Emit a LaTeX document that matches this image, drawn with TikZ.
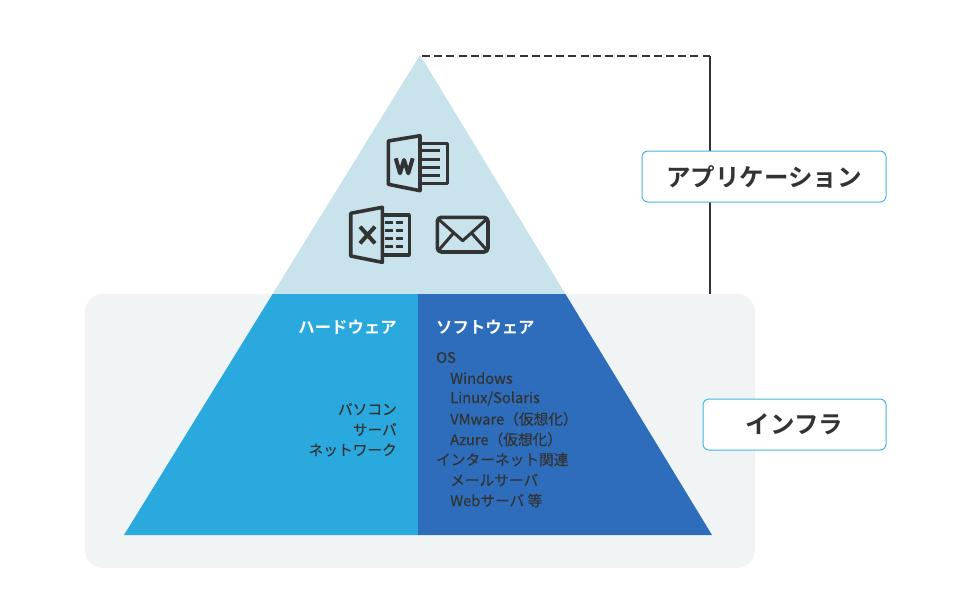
\documentclass[tikz,border=0pt]{standalone}
\usepackage{fontspec}
\setmainfont{Noto Sans CJK JP}[BoldFont={Noto Sans CJK JP Bold}]
\newfontfamily\bodyfont[FakeBold=0.4]{Noto Sans CJK JP}
\definecolor{inkgray}{HTML}{333333}
\definecolor{infrabg}{HTML}{F0F4F5}
\definecolor{apptop}{HTML}{C8E3EB}
\definecolor{hardblue}{HTML}{2AA9DE}
\definecolor{softblue}{HTML}{2D6DBB}
\definecolor{boxline}{HTML}{45B5E0}

\begin{document}
\begin{tikzpicture}[x=1pt,y=-1pt,line join=round]
   \useasboundingbox (0,0) rectangle (960,592);
   \tikzstyle{label}=[draw=boxline, line width=1pt, rounded corners=6pt, fill=white, text=inkgray, font=\fontsize{24.5}{24.5}\selectfont\bfseries, inner sep=0pt]
   \tikzstyle{head}=[text=white, font=\fontsize{16.4}{16.4}\selectfont\bfseries, inner sep=0pt]
   \tikzstyle{item}=[text=inkgray, font=\fontsize{14.7}{14.7}\bodyfont, inner sep=0pt]
   \tikzstyle{icon}=[draw=inkgray, line width=3.6pt]
   \tikzstyle{link}=[draw=inkgray, line width=2.2pt]

   % pyramid
   \fill[infrabg, rounded corners=18pt] (85,294) rectangle (755,568);
   \fill[apptop] (420,55) -- (565.4,294) -- (272.6,294) -- cycle;
   \fill[hardblue] (272.6,294) -- (418,294) -- (418,535) -- (124,535) -- cycle;
   \fill[softblue] (418,294) -- (565.4,294) -- (712,535) -- (418,535) -- cycle;

   % connectors
   \coordinate (apex) at (422,56);
   \coordinate (corner) at (710,56);
   \coordinate (base) at (710,294);
   \draw[link, dash pattern=on 8pt off 4.2pt] (apex) -- (corner);
   \draw[link] (corner) -- (base);

   \node[label, minimum width=244pt, minimum height=51pt] (app) at (764,176.5) {\raisebox{-1pt}{アプリケーション}};
   \node[label, minimum width=183pt, minimum height=51pt] (infra) at (794.5,424.5) {\raisebox{-1.2pt}{インフラ}};

   \node[head, anchor=east] (hard) at (397,327) {ハードウェア};
   \node[head, anchor=west] (soft) at (436,327) {ソフトウェア};

   \foreach \i/\y/\word in {0/409/{パソコン},1/429.5/{サーバ},2/450/{ネットワーク}} {
       \node[item, anchor=east] (hw\i) at (397,\y) {\word};
   }
   \foreach \i/\x/\y/\word in {0/436/357.5/{OS},1/450/378/{Windows},2/450/398.5/{Linux/Solaris},3/450/419/{VMware（仮想化）},4/450/439.5/{Azure（仮想化）},5/436/459.5/{インターネット関連},6/450/480/{メールサーバ},7/450/500.5/{Webサーバ 等}} {
       \node[item, anchor=west] (sw\i) at (\x,\y) {\word};
   }

   % word icon
   \draw[icon] (420,143.3) -- (447.3,143.3) -- (447.3,183.3) -- (420,183.3);
   \draw[icon] (388.3,141) -- (420,135.7) -- (420,190.7) -- (388.3,184.3) -- cycle;
   \foreach \y in {150.7,159,167.3,175} {
       \draw[icon, line width=3pt] (421.7,\y) -- (440,\y);
   }
   \draw[icon, line width=4pt] (395.7,158.3) -- (400,173.3) -- (404,160) -- (408.3,173.3) -- (412.7,158.3);

   % excel icon
   \draw[icon] (382.3,215) -- (409.3,215) -- (409.3,255) -- (382.3,255);
   \draw[icon] (350.7,213.3) -- (382.3,207.3) -- (382.3,262.3) -- (350.7,256) -- cycle;
   \foreach \y in {222.7,230.7,238.3,246.7} {
       \draw[icon, line width=3pt] (385,\y) -- (392.7,\y);
       \draw[icon, line width=3pt] (396,\y) -- (402.7,\y);
   }
   \draw[icon, line width=4pt] (360,226.7) -- (375,243.3) (375,226.7) -- (360,243.3);

   % mail icon
   \draw[icon, rounded corners=4pt] (437.3,217.3) rectangle (488,252);
   \draw[icon, line width=3pt] (438.3,219) -- (462.7,240.7) -- (486.7,219);
   \draw[icon, line width=3pt] (438.3,250.7) -- (453.3,233.3);
   \draw[icon, line width=3pt] (487.3,250.7) -- (471.7,233.3);
\end{tikzpicture}
\end{document}
